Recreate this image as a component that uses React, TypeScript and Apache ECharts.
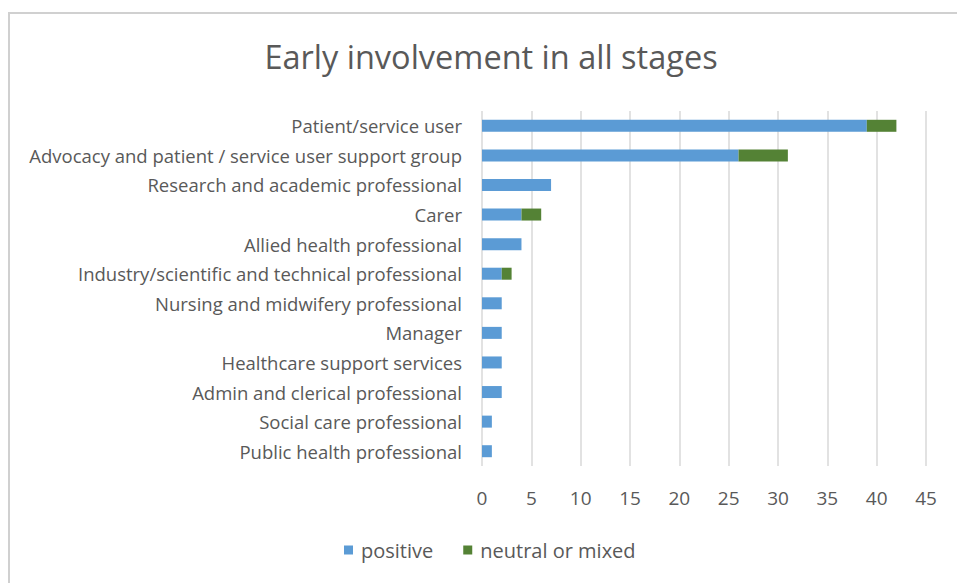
import React, { useEffect, useRef } from "react";
import * as echarts from "echarts";

const categories = [
  "Patient/service user",
  "Advocacy and patient / service user support group",
  "Research and academic professional",
  "Carer",
  "Allied health professional",
  "Industry/scientific and technical professional",
  "Nursing and midwifery professional",
  "Manager",
  "Healthcare support services",
  "Admin and clerical professional",
  "Social care professional",
  "Public health professional",
];
const positive = [39, 26, 7, 4, 4, 2, 2, 2, 2, 2, 1, 1];
const neutral = [3, 5, 0, 2, 0, 1, 0, 0, 0, 0, 0, 0];
const seriesNames = ["positive", "neutral or mixed"];
const titleText = "Early involvement in all stages";

const FONT = "'Open Sans', sans-serif";
const TXT = "#595959";

export default function App() {
  const ref = useRef<HTMLDivElement>(null);
  useEffect(() => {
    if (!ref.current) return;
    const chart = echarts.init(ref.current, null, { renderer: "svg" });
    chart.setOption({
      animation: false,
      backgroundColor: "#ffffff",
      title: {
        text: titleText,
        left: 486,
        textAlign: "center",
        top: 35,
        textStyle: { fontFamily: FONT, fontSize: 32.5, fontWeight: "normal", color: TXT },
      },
      graphic: [
        {
          type: "rect",
          shape: { x: 9, y: 13, width: 1000, height: 1000 },
          style: { fill: "none", stroke: "#d0d0d0", lineWidth: 2 },
          silent: true,
        },
      ],
      legend: {
        data: seriesNames,
        left: 339,
        top: 535,
        itemWidth: 9,
        itemHeight: 9,
        itemGap: 30,
        icon: "rect",
        textStyle: { fontFamily: FONT, fontSize: 20, color: TXT, padding: [0, 0, 0, 3] },
      },
      grid: { left: 482, right: 31, top: 111, bottom: 117, containLabel: false },
      xAxis: {
        type: "value",
        min: 0,
        max: 45,
        interval: 5,
        axisLine: { show: false },
        axisTick: { show: false },
        axisLabel: { fontFamily: FONT, fontSize: 19, color: TXT, margin: 22 },
        splitLine: { show: true, lineStyle: { color: "#d9d9d9", width: 1.5 } },
      },
      yAxis: {
        type: "category",
        inverse: true,
        data: categories,
        axisLine: { show: false },
        axisTick: { show: false },
        axisLabel: { fontFamily: FONT, fontSize: 18.5, color: TXT, margin: 20 },
      },
      series: [
        {
          name: seriesNames[0],
          type: "bar",
          stack: "s",
          data: positive,
          barWidth: 12,
          itemStyle: { color: "#5b9bd5" },
        },
        {
          name: seriesNames[1],
          type: "bar",
          stack: "s",
          data: neutral,
          barWidth: 12,
          itemStyle: { color: "#548235" },
        },
      ],
    });
    return () => chart.dispose();
  }, []);
  return (
    <div
      ref={ref}
      style={{ position: "fixed", left: 0, top: 0, width: 957, height: 583 }}
    />
  );
}
